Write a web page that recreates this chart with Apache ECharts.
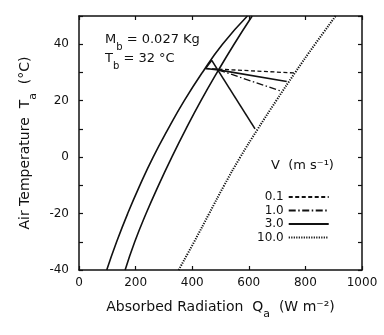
<!DOCTYPE html>
<html><head><meta charset="utf-8">
<script src="https://cdn.jsdelivr.net/npm/echarts@6/dist/echarts.min.js"></script>
<style>html,body{margin:0;padding:0;background:#fff}#c{width:384px;height:335px}</style>
</head><body><div id="c"></div>
<script>
// Absorbed radiation Qa (W m-2) vs air temperature Ta (°C)
const xTicks = [0, 200, 400, 600, 800, 1000];
const yTicks = [-40, -20, 0, 20, 40];
const curveTemps = [-40, -30, -20, -10, 0, 10, 20, 30, 40, 50];
const curveA_Q = [98, 133, 172, 215, 262, 315, 372, 436, 507, 595];
const curveB_Q = [163, 197, 237, 281, 328, 378, 431, 488, 548, 612];
const curveV10_Q = [352, 407, 460, 513, 570, 632, 697, 764, 834, 907];
// fan points [Q, T]
const ptL = [447, 31.4];
const ptU = [469, 34.3];
const ptP = [492, 30.9];
const end01 = [763, 29.8];
const end30 = [734, 26.8];
const end10 = [716, 23.3];
const endSteep = [622, 10.0];
const legendNames = ['0.1', '1.0', '3.0', '10.0'];

const FONT = 'DejaVu Sans';
const pair = (qs) => qs.map((q, i) => [q, curveTemps[i]]);
const base = { type: 'line', symbol: 'none', silent: true, animation: false, clip: true,
  itemStyle: { color: '#111' } };
const solid = { color: '#111', width: 1.6, type: 'solid' };
const richTxt = (fs, sfs) => ({
  n: { fontFamily: FONT, fontSize: fs, fontWeight: 'normal', color: '#111' },
  s: { fontFamily: FONT, fontSize: sfs, fontWeight: 'normal', color: '#111', verticalAlign: 'bottom', padding: [0,0,-6,0] } });

const chart = echarts.init(document.getElementById('c'), null, { renderer: 'canvas' });
chart.setOption({
  animation: false,
  grid: { left: 79, right: 22, top: 16, bottom: 65 },
  xAxis: [{
    type: 'value', min: 0, max: 1000, interval: 200,
    axisLine: { onZero: false, lineStyle: { color: '#111', width: 1.5 } },
    axisTick: { inside: true, length: 4, lineStyle: { color: '#111', width: 1.2 } },
    splitLine: { show: false },
    axisLabel: { color: '#111', fontFamily: FONT, fontSize: 12, margin: 7,
      formatter: v => xTicks.includes(v) ? String(v) : '' },
    name: '{n|Absorbed Radiation  Q}{s|a}{n|  (W m⁻²)}',
    nameLocation: 'middle', nameGap: 30,
    nameTextStyle: { rich: richTxt(14, 11) }
  }, {
    type: 'value', min: 0, max: 1000, interval: 200, position: 'top',
    axisLine: { show: true, onZero: false, lineStyle: { color: '#111', width: 1.5 } },
    axisTick: { inside: true, length: 4, lineStyle: { color: '#111', width: 1.2 } },
    axisLabel: { show: false }, splitLine: { show: false }
  }],
  yAxis: [{
    type: 'value', min: -40, max: 50, interval: 10,
    axisLine: { show: true, onZero: false, lineStyle: { color: '#111', width: 1.5 } },
    axisTick: { inside: true, length: 4, lineStyle: { color: '#111', width: 1.2 } },
    splitLine: { show: false },
    axisLabel: { color: '#111', fontFamily: FONT, fontSize: 12, margin: 10,
      formatter: v => yTicks.includes(v) ? String(v) : '' },
    name: '{n|Air Temperature  T}{s|a}{n|  (°C)}',
    nameLocation: 'middle', nameGap: 44, nameRotate: 90,
    nameTextStyle: { rich: richTxt(14, 11) }
  }, {
    type: 'value', min: -40, max: 50, interval: 10, position: 'right',
    axisLine: { show: true, onZero: false, lineStyle: { color: '#111', width: 1.5 } },
    axisTick: { inside: true, length: 4, lineStyle: { color: '#111', width: 1.2 } },
    axisLabel: { show: false }, splitLine: { show: false }
  }],
  title: [{
    left: 100, top: 28,
    text: '{n|M}{s|b}{n| = 0.027 Kg}',
    textStyle: { fontWeight: 'normal', rich: richTxt(13, 10) }
  }, {
    left: 100, top: 47,
    text: '{n|T}{s|b}{n| = 32 °C}',
    textStyle: { fontWeight: 'normal', rich: richTxt(13, 10) }
  }, {
    left: 266, top: 154,
    text: 'V  (m s⁻¹)',
    textStyle: { fontFamily: FONT, fontSize: 13, fontWeight: 'normal', color: '#111' }
  }],
  legend: {
    data: legendNames, orient: 'vertical', align: 'right',
    left: 252, top: 186, itemWidth: 40, itemHeight: 10, itemGap: 1.5,
    itemStyle: { color: 'transparent', borderWidth: 0, opacity: 0 },
    textStyle: { fontFamily: FONT, fontSize: 12, color: '#111', width: 30, align: 'right' }
  },
  series: [
    Object.assign({}, base, { name: '3.0', data: pair(curveA_Q), smooth: true, lineStyle: solid }),
    Object.assign({}, base, { name: '3.0', data: pair(curveB_Q), smooth: true, lineStyle: solid }),
    Object.assign({}, base, { name: '10.0', data: pair(curveV10_Q), smooth: true,
      lineStyle: { color: '#111', width: 2, type: [1.2, 1.3] } }),
    Object.assign({}, base, { name: '0.1', data: [ptL, end01],
      lineStyle: { color: '#111', width: 1.3, type: [4, 2.5] } }),
    Object.assign({}, base, { name: '1.0', data: [ptP, end10],
      lineStyle: { color: '#111', width: 1.3, type: [7, 2.5, 1.5, 2.5] } }),
    Object.assign({}, base, { name: '3.0', data: [ptP, end30], lineStyle: solid }),
    Object.assign({}, base, { name: '3.0', data: [ptU, endSteep], lineStyle: solid }),
    Object.assign({}, base, { name: '3.0', data: [ptL, ptU], lineStyle: solid }),
    Object.assign({}, base, { name: '3.0', data: [ptL, ptP], lineStyle: solid })
  ]
});
</script></body></html>
